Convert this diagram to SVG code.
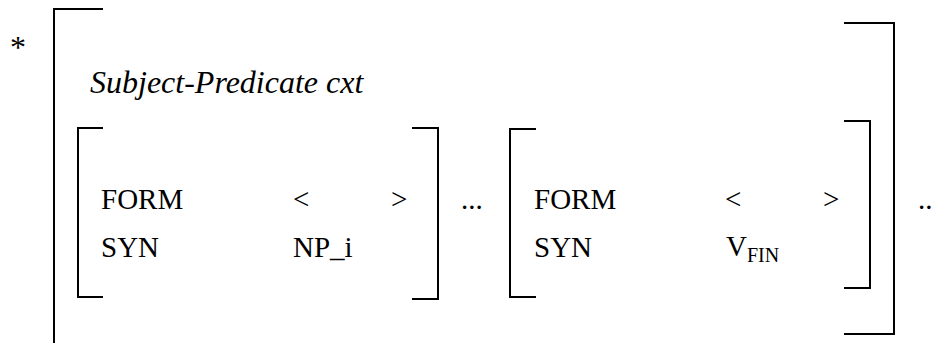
<svg xmlns="http://www.w3.org/2000/svg" width="935" height="343" viewBox="0 0 935 343">
<style>
.br{fill:none;stroke:#000;stroke-width:2;stroke-linecap:square}
text{font-family:'Liberation Serif','Times New Roman','DejaVu Serif',serif;font-size:29px;fill:#000}
.it{font-style:italic;font-size:32px}
.sub{font-size:20px}
</style>
<rect width="935" height="343" fill="#fff"/>
<g id="star"><text x="10" y="58" style="font-size:32px">*</text></g>
<g id="outer-avm">
<polyline class="br" points="102,9 54,9 54,345"/>
<polyline class="br" points="845,23 894,23 894,334 845,334"/>
<text class="it" x="90" y="93">Subject-Predicate cxt</text>
</g>
<g id="daughter-1">
<polyline class="br" points="102,128 78,128 78,297 102,297"/>
<polyline class="br" points="413,128 438,128 438,299 413,299"/>
<text x="101" y="209">FORM</text>
<text x="101" y="257">SYN</text>
<text x="293" y="209">&lt;</text>
<text x="391" y="209">&gt;</text>
<text x="293" y="257">NP_i</text>
</g>
<g id="ellipsis-1"><text x="461" y="209">...</text></g>
<g id="daughter-2">
<polyline class="br" points="535,129 510,129 510,297 535,297"/>
<polyline class="br" points="845,121 870,121 870,288 845,288"/>
<text x="534" y="209">FORM</text>
<text x="534" y="257">SYN</text>
<text x="725" y="209">&lt;</text>
<text x="823" y="209">&gt;</text>
<text x="726" y="256">V<tspan class="sub" dy="6">FIN</tspan></text>
</g>
<g id="ellipsis-2"><text x="918" y="209">..</text></g>
<g id="connectors"/>
</svg>
